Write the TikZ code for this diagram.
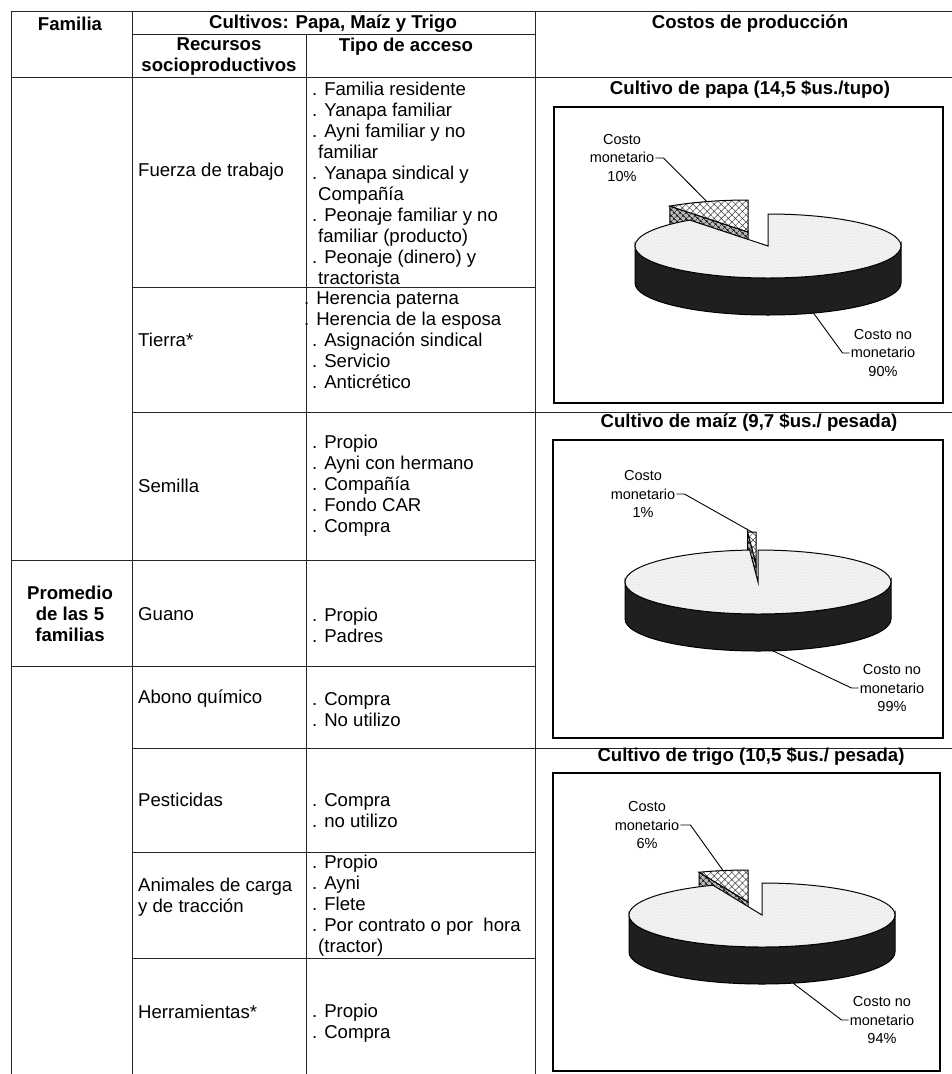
\documentclass[tikz,border=0pt]{standalone}
\usepackage{fontspec}
\setmainfont{Liberation Sans}
\usetikzlibrary{patterns.meta}
\tikzset{
x=1pt, y=-1pt, % one unit is one point, y grows downwards
tablerule/.style={draw=black!85, line width=0.9pt}, % lines of the table
txt/.style={inner sep=0pt, font=\fontsize{18.6}{21}\selectfont, align=left}, % plain cell text
hd/.style={inner sep=0pt, font=\fontsize{18.6}{21}\selectfont\bfseries, align=center}, % bold headers
ctitle/.style={inner sep=0pt, font=\fontsize{18.6}{21}\selectfont\bfseries}, % title over a chart
chartframe/.style={draw=black, line width=1.6pt}, % box round a chart
lbl/.style={inner sep=1pt, font=\fontsize{14.5}{18.5}\selectfont, align=center}, % pie labels
leader/.style={draw=black, line width=0.9pt}, % label lines
caketop/.style={fill=gray!10, postaction={pattern={Dots[distance=3pt,radius=0.3pt]}, pattern color=gray!50}, draw=black, line width=1pt}, % top of the pie
cakeside/.style={fill=black!88, draw=black, line width=1pt}, % rim of the pie
slicetop/.style={preaction={fill=white}, pattern={Hatch[angle=45,distance=5pt,line width=0.5pt]}, pattern color=black!75, draw=black, line width=1pt}, % small slice, top
slicecut/.style={preaction={fill=gray!55}, pattern={Hatch[angle=45,distance=4pt,line width=0.6pt]}, pattern color=black, draw=black, line width=1pt}, % small slice, cut face
}
% #1 name, #2 #3 centre, #4 start angle of the small slice,
% #5 #6 shift of that slice, #7 angle where the lower label line ends
\newcommand{\cakepie}[7]{%
  \begin{scope}[shift={(#2+#5,#3+#6)}]
    \path[slicecut] (0,0) -- (#4:133 and 32) -- ++(0,37) -- (0,37) -- cycle;
    \path[slicetop] (0,0) -- (#4:133 and 32) arc[start angle=#4, end angle=-90, x radius=133, y radius=32] -- cycle;
    \coordinate (#1a) at ({(#4-90)/2}:133 and 32);
  \end{scope}
  \begin{scope}[shift={(#2,#3)}]
    \path[cakeside] (0:133 and 32) arc[start angle=0, end angle=180, x radius=133, y radius=32] -- ++(0,37) arc[start angle=180, end angle=0, x radius=133, y radius=32] -- cycle;
    \path[caketop] (0,0) -- (-90:133 and 32) arc[start angle=-90, end angle=#4+360, x radius=133, y radius=32] -- cycle;
    \path (#7:133 and 32) ++(0,37) coordinate (#1b);
  \end{scope}}

\begin{document}
\begin{tikzpicture}
    \useasboundingbox (0,0) rectangle (952,1074);

    % table lines
    \draw[tablerule] (11,1074) -- (11,11) -- (952,11);
    \draw[tablerule] (132,11) -- (132,1074);
    \draw[tablerule] (535,11) -- (535,1074);
    \draw[tablerule] (306,34) -- (306,1074);
    \draw[tablerule] (132,34) -- (535,34);
    \draw[tablerule] (11,77) -- (952,77);
    \foreach \y in {412,748} \draw[tablerule] (132,\y) -- (952,\y);
    \foreach \y in {560,666} \draw[tablerule] (11,\y) -- (535,\y);
    \foreach \y in {287,852,958} \draw[tablerule] (132,\y) -- (535,\y);

    % headers
    \node[hd] (hfam) at (70,24) {Familia};
    \node[hd] (hcul) at (333,24) {Cultivos: Papa, Maíz y Trigo};
    \node[hd] (hrec) at (219,57) {Recursos\\socioproductivos};
    \node[hd] (htip) at (406,47) {Tipo de acceso};
    \node[hd] (hcos) at (750,24) {Costos de producción};
    \node[hd] (prom) at (70,614) {Promedio\\de las 5\\familias};

    % resources
    \node[txt, anchor=west] (fuerza) at (138,172) {Fuerza de trabajo};
    \node[txt, anchor=west] (tierra) at (138,340) {Tierra*};
    \node[txt, anchor=west] (semilla) at (138,486) {Semilla};
    \node[txt, anchor=west] (guano) at (138,614) {Guano};
    \node[txt, anchor=west] (abono) at (138,699) {Abono químico};
    \node[txt, anchor=west] (pest) at (138,800) {Pesticidas};
    \node[txt, anchor=west] (anim) at (138,897) {Animales de carga\\y de tracción};
    \node[txt, anchor=west] (herr) at (138,1012) {Herramientas*};

    % kinds of access
    \node[txt, anchor=west] (afuerza) at (312,183) {. Familia residente\\. Yanapa familiar\\. Ayni familiar y no\\\hspace*{6pt}familiar\\. Yanapa sindical y\\\hspace*{6pt}Compañía\\. Peonaje familiar y no\\\hspace*{6pt}familiar (producto)\\. Peonaje (dinero) y\\\hspace*{6pt}tractorista};
    \node[txt, anchor=west] (atierra) at (312,340) {\hspace*{-8pt}. Herencia paterna\\\hspace*{-8pt}. Herencia de la esposa\\. Asignación sindical\\. Servicio\\. Anticrético};
    \node[txt, anchor=west] (asemilla) at (312,486) {. Propio\\. Ayni con hermano\\. Compañía\\. Fondo CAR\\. Compra};
    \node[txt, anchor=west] (aguano) at (312,625) {. Propio\\. Padres};
    \node[txt, anchor=west] (aabono) at (312,710) {. Compra\\. No utilizo};
    \node[txt, anchor=west] (apest) at (312,811) {. Compra\\. no utilizo};
    \node[txt, anchor=west] (aanim) at (312,906) {. Propio\\. Ayni\\. Flete\\. Por contrato o por\ \ hora\\\hspace*{6pt}(tractor)};
    \node[txt, anchor=west] (aherr) at (312,1023) {. Propio\\. Compra};

    % charts
    \node[ctitle] (tpapa) at (750,90) {Cultivo de papa (14,5 \$us./tupo)};
    \node[ctitle] (tmaiz) at (749,423) {Cultivo de maíz (9,7 \$us./ pesada)};
    \node[ctitle] (ttrigo) at (751,757) {Cultivo de trigo (10,5 \$us./ pesada)};
    \draw[chartframe] (554,107) rectangle (943,403);
    \draw[chartframe] (553,440) rectangle (943,738);
    \draw[chartframe] (553,773) rectangle (940,1071);

    \cakepie{papa}{768}{246}{-126}{-20}{-14}{70}
    \cakepie{maiz}{758}{582}{-93.6}{-2}{-18}{83.6}
    \cakepie{trigo}{762}{915}{-111.6}{-14}{-13}{76.5}

    \node[lbl] (pm) at (622,158) {Costo\\monetario\\10\%};
    \node[lbl] (pn) at (883,353) {Costo no\\monetario\\90\%};
    \node[lbl] (mm) at (643,494) {Costo\\monetario\\1\%};
    \node[lbl] (mn) at (892,688) {Costo no\\monetario\\99\%};
    \node[lbl] (tm) at (647,825) {Costo\\monetario\\6\%};
    \node[lbl] (tn) at (882,1020) {Costo no\\monetario\\94\%};

    \draw[leader] (pm.east) -- ++(8,0) -- (papaa);
    \draw[leader] (pn.west) -- ++(-7,0) -- (papab);
    \draw[leader] (mm.east) -- ++(8,0) -- (maiza);
    \draw[leader] (mn.west) -- ++(-7,0) -- (maizb);
    \draw[leader] (tm.east) -- ++(10,0) -- (trigoa);
    \draw[leader] (tn.west) -- ++(-7,0) -- (trigob);
\end{tikzpicture}
\end{document}
